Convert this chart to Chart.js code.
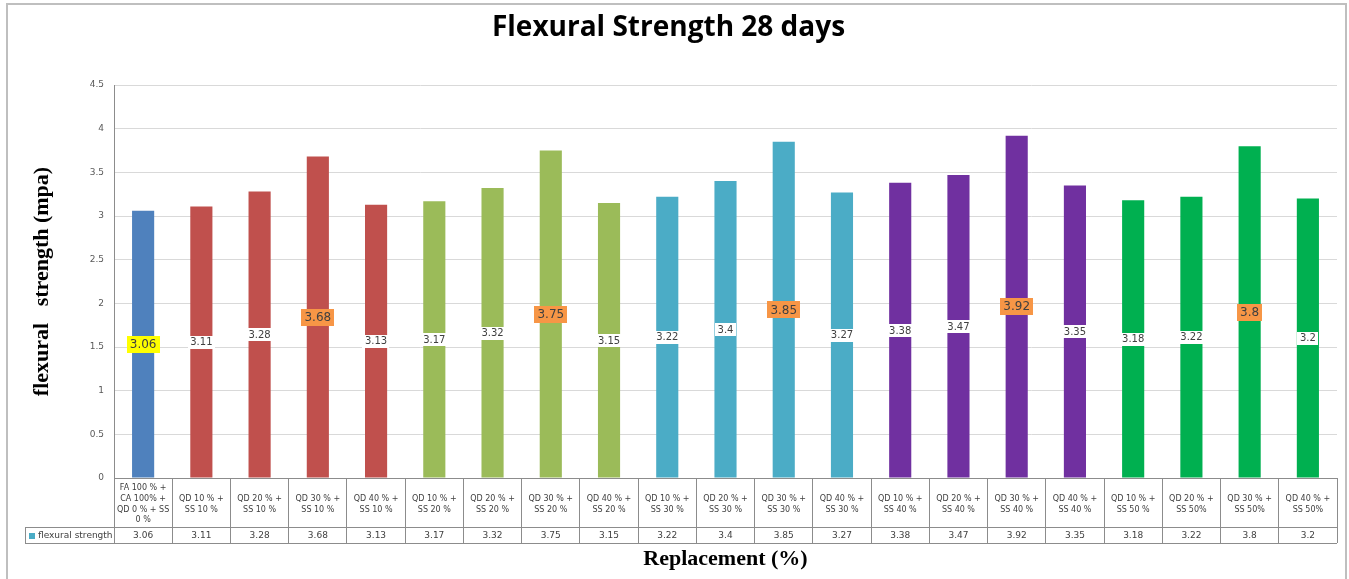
<!DOCTYPE html>
<html>
<head>
<meta charset="utf-8">
<script src="https://cdn.jsdelivr.net/npm/chart.js@4.4.0/dist/chart.umd.min.js"></script>
<style>
html, body { margin: 0; padding: 0; background: #fff; }
</style>
</head>
<body>
<canvas id="myChart" width="1349" height="579"></canvas>
<script>
// * Data
const categories = [
    ["FA 100 % +", "CA 100% +", "QD 0 % + SS", "0 %"],
    ["QD 10 % +", "SS 10 %"],
    ["QD 20 % +", "SS 10 %"],
    ["QD 30 % +", "SS 10 %"],
    ["QD 40 % +", "SS 10 %"],
    ["QD 10 % +", "SS 20 %"],
    ["QD 20 % +", "SS 20 %"],
    ["QD 30 % +", "SS 20 %"],
    ["QD 40 % +", "SS 20 %"],
    ["QD 10 % +", "SS 30 %"],
    ["QD 20 % +", "SS 30 %"],
    ["QD 30 % +", "SS 30 %"],
    ["QD 40 % +", "SS 30 %"],
    ["QD 10 % +", "SS 40 %"],
    ["QD 20 % +", "SS 40 %"],
    ["QD 30 % +", "SS 40 %"],
    ["QD 40 % +", "SS 40 %"],
    ["QD 10 % +", "SS 50 %"],
    ["QD 20 % +", "SS 50%"],
    ["QD 30 % +", "SS 50%"],
    ["QD 40 % +", "SS 50%"],
];
const flexuralStrength = [3.06, 3.11, 3.28, 3.68, 3.13, 3.17, 3.32, 3.75, 3.15, 3.22, 3.4, 3.85, 3.27, 3.38, 3.47, 3.92, 3.35, 3.18, 3.22, 3.8, 3.2];
const seriesName = "flexural strength";
const yMin = 0;
const yMax = 4.5;
const yStep = 0.5;

// * Styles
const groupColors = ["#4F81BD", "#C0504D", "#C0504D", "#C0504D", "#C0504D",
    "#9BBB59", "#9BBB59", "#9BBB59", "#9BBB59",
    "#4BACC6", "#4BACC6", "#4BACC6", "#4BACC6",
    "#7030A0", "#7030A0", "#7030A0", "#7030A0",
    "#00B050", "#00B050", "#00B050", "#00B050"];
// label box fill: yellow for control, orange for QD 30 % mixes
const labelFills = ["#FFFF00", "#fff", "#fff", "#F79646", "#fff", "#fff", "#fff", "#F79646", "#fff",
    "#fff", "#fff", "#F79646", "#fff", "#fff", "#fff", "#F79646", "#fff", "#fff", "#fff", "#F79646", "#fff"];

const TABLE_TOP = 478;
const ROW_LINE = 527;
const TABLE_BOTTOM = 543;
const LEGEND_LEFT = 25;
const LINE_COLOR = "#8C8C8C";

// * Outer frame
const framePlugin = {
    id: "frame",
    beforeDraw(chart) {
        const ctx = chart.ctx;
        ctx.save();
        ctx.fillStyle = "#fff";
        ctx.fillRect(0, 0, chart.width, chart.height);
        ctx.strokeStyle = "#BFBFBF";
        ctx.lineWidth = 2;
        ctx.strokeRect(7, 4, chart.width - 10, chart.height + 10);
        ctx.restore();
    },
};

// * Labels in the middle of each bar
const barLabelPlugin = {
    id: "barLabels",
    afterDatasetsDraw(chart) {
        const { ctx, scales: { x, y } } = chart;
        ctx.save();
        ctx.textAlign = "center";
        ctx.textBaseline = "middle";
        flexuralStrength.forEach((v, i) => {
            const px = x.getPixelForValue(i);
            const py = y.getPixelForValue(v / 2);
            const big = labelFills[i] !== "#fff";
            ctx.font = (big ? "12px" : "10px") + " 'DejaVu Sans', sans-serif";
            const text = String(v);
            const w = ctx.measureText(text).width + (big ? 6 : 5);
            const h = big ? 17 : 13;
            ctx.fillStyle = labelFills[i];
            ctx.fillRect(Math.round(px - w / 2), Math.round(py - h / 2), Math.round(w), h);
            ctx.fillStyle = "#404040";
            ctx.fillText(text, px, py + 0.5);
        });
        ctx.restore();
    },
};

// * Data table under the axis
const tablePlugin = {
    id: "dataTable",
    afterDraw(chart) {
        const { ctx, scales: { x } } = chart;
        const right = x.right;
        ctx.save();
        ctx.strokeStyle = LINE_COLOR;
        ctx.lineWidth = 1;
        ctx.beginPath();
        ctx.moveTo(LEGEND_LEFT, ROW_LINE + 0.5);
        ctx.lineTo(right, ROW_LINE + 0.5);
        ctx.moveTo(LEGEND_LEFT, TABLE_BOTTOM + 0.5);
        ctx.lineTo(right, TABLE_BOTTOM + 0.5);
        ctx.moveTo(LEGEND_LEFT + 0.5, ROW_LINE);
        ctx.lineTo(LEGEND_LEFT + 0.5, TABLE_BOTTOM + 1);
        ctx.stroke();

        // legend cell
        ctx.fillStyle = "#4BACC6";
        ctx.fillRect(LEGEND_LEFT + 4, ROW_LINE + 6, 6, 6);
        ctx.fillStyle = "#404040";
        ctx.font = "9px 'DejaVu Sans', sans-serif";
        ctx.textAlign = "left";
        ctx.textBaseline = "middle";
        ctx.fillText(seriesName, LEGEND_LEFT + 13, (ROW_LINE + TABLE_BOTTOM) / 2 + 0.5);

        // values
        ctx.textAlign = "center";
        flexuralStrength.forEach((v, i) => {
            ctx.fillText(String(v), x.getPixelForValue(i), (ROW_LINE + TABLE_BOTTOM) / 2 + 0.5);
        });
        ctx.restore();
    },
};

const ctx = document.getElementById("myChart").getContext("2d");

const config = {
    type: "bar",
    data: {
        labels: categories,
        datasets: [
            {
                label: seriesName,
                data: flexuralStrength,
                backgroundColor: groupColors,
                borderWidth: 0,
                categoryPercentage: 1,
                barPercentage: 0.38,
            },
        ],
    },
    options: {
        responsive: false,
        animation: false,
        layout: {
            padding: { top: 0, right: 12, bottom: 0, left: 0 },
        },
        plugins: {
            legend: { display: false },
            tooltip: { enabled: false },
            title: {
                display: true,
                text: "Flexural Strength 28 days",
                color: "#000",
                font: { family: "Open Sans", size: 28, weight: "bold", lineHeight: 1.2 },
                padding: { top: 11, bottom: 40.4 },
            },
        },
        scales: {
            y: {
                min: yMin,
                max: yMax,
                afterFit(scale) {
                    scale.width = 114;
                },
                ticks: {
                    stepSize: yStep,
                    color: "#595959",
                    font: { family: "DejaVu Sans", size: 9 },
                    padding: 10,
                    callback: (value) => String(+value),
                },
                grid: {
                    color: "#D9D9D9",
                    drawTicks: false,
                },
                border: { display: true, color: LINE_COLOR },
                title: {
                    display: true,
                    text: "flexural   strength (mpa)",
                    color: "#000",
                    font: { family: "Liberation Serif", size: 22, weight: "bold", lineHeight: 1.2 },
                    padding: { top: 29, bottom: 0 },
                },
            },
            x: {
                afterFit(scale) {
                    scale.height = 101;
                },
                grid: {
                    display: true,
                    drawOnChartArea: false,
                    drawTicks: true,
                    tickLength: TABLE_BOTTOM - TABLE_TOP,
                    color: LINE_COLOR,
                    offset: true,
                },
                border: { display: true, color: LINE_COLOR },
                ticks: {
                    autoSkip: false,
                    maxRotation: 0,
                    color: "#404040",
                    font: { family: "DejaVu Sans", size: 8, lineHeight: 1.35 },
                    crossAlign: "center",
                    padding: -55,
                },
                title: {
                    display: true,
                    text: "Replacement (%)",
                    color: "#000",
                    font: { family: "Liberation Serif", size: 22, weight: "bold", lineHeight: 1.2 },
                    padding: { top: 0, bottom: 6 },
                },
            },
        },
    },
    plugins: [framePlugin, barLabelPlugin, tablePlugin],
};

const chart = new Chart(ctx, config);
</script>
</body>
</html>
